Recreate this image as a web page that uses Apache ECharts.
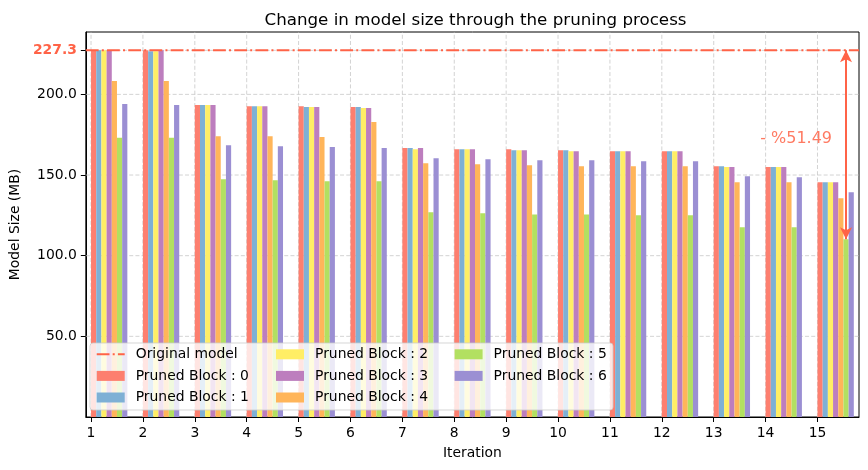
<!DOCTYPE html>
<html>
<head>
<meta charset="utf-8">
<script src="https://cdn.jsdelivr.net/npm/echarts@6/dist/echarts.min.js"></script>
<style>
  html, body { margin: 0; padding: 0; background: #fff; }
  #chart { width: 868px; height: 470px; }
</style>
</head>
<body>
<div id="chart"></div>
<script>
// ---------------- data ----------------
const iterations = [1, 2, 3, 4, 5, 6, 7, 8, 9, 10, 11, 12, 13, 14, 15];
const originalSize = 227.3;
const block0 = [227.3, 227.3, 193.4, 192.7, 192.7, 192.1, 166.7, 166.0, 166.0, 165.4, 164.8, 164.8, 155.5, 154.9, 145.6];
const block1 = [227.3, 226.8, 193.4, 192.7, 192.1, 192.1, 166.7, 166.0, 165.4, 165.4, 164.8, 164.8, 155.5, 154.9, 145.6];
const block2 = [227.3, 226.8, 193.4, 192.7, 192.1, 191.5, 166.0, 166.0, 165.4, 164.8, 164.8, 164.8, 154.9, 154.9, 145.6];
const block3 = [227.3, 227.3, 193.4, 192.7, 192.1, 191.5, 166.7, 166.0, 165.4, 164.8, 164.8, 164.8, 154.9, 154.9, 145.6];
const block4 = [208.3, 208.3, 174.1, 174.1, 173.5, 182.8, 157.3, 156.7, 156.1, 155.5, 155.5, 155.5, 145.6, 145.6, 135.6];
const block5 = [173.1, 173.1, 147.4, 146.8, 146.2, 146.2, 126.9, 126.3, 125.6, 125.6, 125.0, 125.0, 117.6, 117.6, 110.26];
const block6 = [194.0, 193.4, 168.5, 167.9, 167.3, 166.7, 160.4, 159.8, 159.2, 159.2, 158.6, 158.6, 149.2, 148.6, 139.3];
const blockNames = ['Pruned Block : 0', 'Pruned Block : 1', 'Pruned Block : 2', 'Pruned Block : 3',
                    'Pruned Block : 4', 'Pruned Block : 5', 'Pruned Block : 6'];
const yTicks = [50, 100, 150, 200, 227.3];
const originalName = 'Original model';

// ---------------- styles ----------------
const blocks = [block0, block1, block2, block3, block4, block5, block6];
const blockColors = ['#fd7f6f', '#7eb0d5', '#ffee65', '#bd7ebe', '#ffb55a', '#b2e061', '#9b8fd3'];
const RED = '#ff6347';
const FONT = 'DejaVu Sans';
const BAR_W = 0.1;
const GRID_COLOR = '#c8c8c8';
const X_MIN = 0.9, X_MAX = 15.8;
const Y_MAX = originalSize * 1.05;

// derived values
const lastIdx = iterations.length - 1;
const finalSize = blocks[5][lastIdx];
const reduction = ((1 - finalSize / originalSize) * 100).toFixed(2);
const arrowX = iterations[lastIdx] + 5.5 * BAR_W;

const chart = echarts.init(document.getElementById('chart'), null, { renderer: 'canvas' });

function makeRender(k) {
  return function (params, api) {
    const x = api.value(0);
    const v = api.value(1);
    const p0 = api.coord([x + k * BAR_W, v]);
    const p1 = api.coord([x + (k + 1) * BAR_W, 0]);
    return {
      type: 'rect',
      shape: { x: p0[0], y: p0[1], width: p1[0] - p0[0], height: p1[1] - p0[1] },
      style: { fill: api.visual('color') }
    };
  };
}

const barSeries = blocks.map((arr, k) => ({
  name: blockNames[k],
  type: 'custom',
  z: 3,
  itemStyle: { color: blockColors[k] },
  renderItem: makeRender(k),
  encode: { x: 0, y: 1 },
  data: iterations.map((it, i) => [it, arr[i]])
}));

// grid lines: item [axisFlag, value]; axisFlag 0 = vertical line at x, 1 = horizontal line at y
const gridItems = iterations.map(v => [0, v]).concat(yTicks.map(v => [1, v]));
function renderGrid(params, api) {
  const isY = api.value(0) === 1;
  const v = api.value(1);
  const a = isY ? api.coord([X_MIN, v]) : api.coord([v, 0]);
  const b = isY ? api.coord([X_MAX, v]) : api.coord([v, Y_MAX]);
  return {
    type: 'line',
    shape: { x1: a[0], y1: a[1], x2: b[0], y2: b[1] },
    style: { stroke: GRID_COLOR, lineWidth: 0.8, lineDash: [4, 2.2] }
  };
}

const legendCommon = {
  orient: 'vertical',
  itemWidth: 28,
  itemHeight: 10,
  itemGap: 5.6,
  selectedMode: false,
  padding: 0,
  z: 60,
  textStyle: { fontFamily: FONT, fontSize: 13.9, color: '#000', lineHeight: 16, padding: [0, 0, 0, 6] }
};

const option = {
  animation: false,
  backgroundColor: '#fff',
  title: {
    text: 'Change in model size through the pruning process',
    left: 470.5,
    textAlign: 'center',
    top: 7,
    textStyle: { fontFamily: FONT, fontSize: 16.7, fontWeight: 'normal', color: '#000' }
  },
  grid: { left: 83, right: 9, top: 32, bottom: 53, show: true, borderColor: '#000', borderWidth: 1 },
  xAxis: {
    type: 'value',
    min: X_MIN,
    max: X_MAX,
    name: 'Iteration',
    nameLocation: 'middle',
    nameGap: 29,
    nameTextStyle: { fontFamily: FONT, fontSize: 13.9, color: '#000' },
    axisLine: { show: true, lineStyle: { color: '#000', width: 1 } },
    axisTick: { show: true, length: 5, lineStyle: { color: '#000' }, customValues: iterations },
    axisLabel: { customValues: iterations, margin: 9, color: '#000', fontFamily: FONT, fontSize: 13.9 },
    splitLine: { show: false }
  },
  yAxis: {
    type: 'value',
    min: 0,
    max: Y_MAX,
    name: 'Model Size (MB)',
    nameLocation: 'middle',
    nameGap: 58,
    nameTextStyle: { fontFamily: FONT, fontSize: 13.9, color: '#000' },
    axisLine: { show: true, lineStyle: { color: '#000', width: 1 } },
    axisTick: { show: true, length: 5, lineStyle: { color: '#000' }, customValues: yTicks },
    axisLabel: {
      customValues: yTicks,
      margin: 9,
      color: '#000',
      fontFamily: FONT,
      fontSize: 13.9,
      formatter: function (v) {
        const s = Number(v).toFixed(1);
        return Math.abs(v - originalSize) < 1e-6 ? '{hl|' + s + '}' : s;
      },
      rich: { hl: { color: RED, fontWeight: 'bold', fontFamily: FONT, fontSize: 13.9 } }
    },
    splitLine: { show: false }
  },
  legend: [
    Object.assign({}, legendCommon, {
      left: 95.7, top: 346.3,
      data: [
        { name: originalName, itemStyle: { opacity: 0, color: 'rgba(0,0,0,0)', borderWidth: 0 } },
        { name: blockNames[0], icon: 'rect' },
        { name: blockNames[1], icon: 'rect' }
      ]
    }),
    Object.assign({}, legendCommon, {
      left: 276, top: 346.3,
      data: [{ name: blockNames[2], icon: 'rect' }, { name: blockNames[3], icon: 'rect' }, { name: blockNames[4], icon: 'rect' }]
    }),
    Object.assign({}, legendCommon, {
      left: 454.6, top: 346.3,
      data: [{ name: blockNames[5], icon: 'rect' }, { name: blockNames[6], icon: 'rect' }]
    })
  ],
  graphic: [{
    type: 'rect',
    z: 50,
    silent: true,
    shape: { x: 90, y: 343, width: 523, height: 67, r: 3 },
    style: { fill: 'rgba(255,255,255,0.8)', stroke: 'rgba(204,204,204,0.8)', lineWidth: 1 }
  }],
  series: [
    {
      name: '__grid',
      type: 'custom',
      z: 1,
      silent: true,
      renderItem: renderGrid,
      data: gridItems
    },
    ...barSeries,
    {
      name: originalName,
      type: 'line',
      z: 5,
      symbol: 'none',
      color: RED,
      lineStyle: { color: RED, width: 2, type: [12.8, 3.2, 2, 3.2] },
      data: [[X_MIN, originalSize], [X_MAX, originalSize]],
      markLine: {
        z: 6,
        silent: true,
        animation: false,
        symbol: ['arrow', 'arrow'],
        symbolSize: [9, 12],
        label: { show: false },
        lineStyle: { color: RED, width: 2, type: 'solid' },
        data: [[{ coord: [arrowX, originalSize] }, { coord: [arrowX, finalSize] }]]
      },
      markPoint: {
        z: 6,
        silent: true,
        animation: false,
        symbol: 'circle',
        symbolSize: 0,
        label: {
          show: true,
          position: 'left',
          distance: 0,
          color: 'rgba(255,99,71,0.85)',
          fontFamily: FONT,
          fontSize: 16,
          formatter: '- %' + reduction
        },
        data: [{ coord: [15.28, 172.7] }]
      }
    }
  ]
};

chart.setOption(option);
</script>
</body>
</html>
